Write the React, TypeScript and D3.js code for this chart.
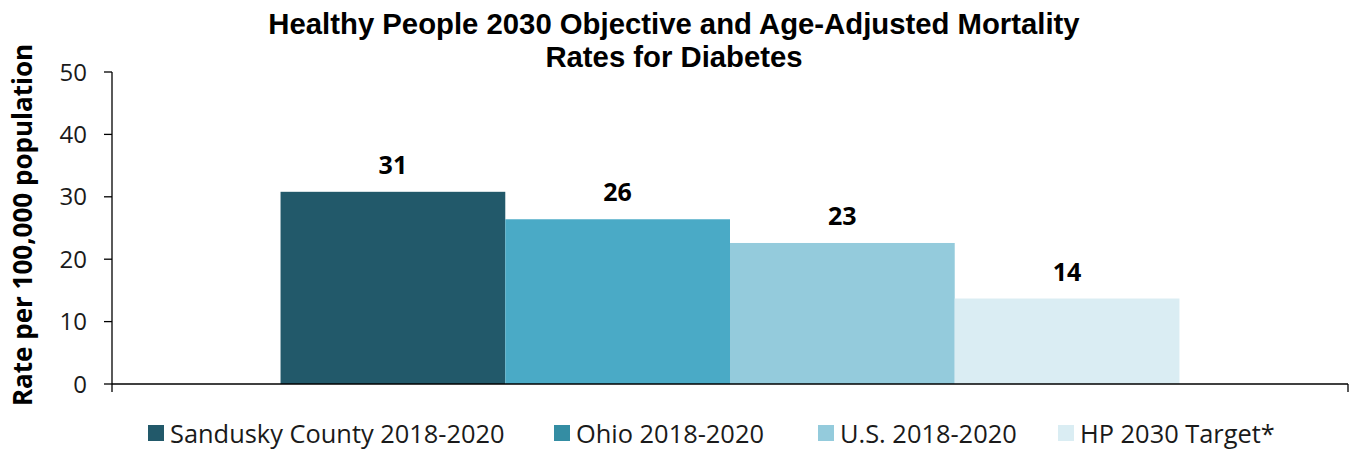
import React from "react";
import * as d3 from "d3";

const categories = ["Diabetes"];
const seriesNames = ["Sandusky County 2018-2020", "Ohio 2018-2020", "U.S. 2018-2020", "HP 2030 Target*"];
const seriesValues = [30.8, 26.4, 22.6, 13.7];
const seriesLabels = ["31", "26", "23", "14"];
const barColors = ["#22596a", "#4aaac6", "#94cbdc", "#daedf3"];
const legendColors = ["#22596a", "#348da3", "#94cbdc", "#daedf3"];
const yTicks = [0, 10, 20, 30, 40, 50];
const titleLines = ["Healthy People 2030 Objective and Age-Adjusted Mortality", "Rates for Diabetes"];
const yAxisTitle = "Rate per 100,000 population";
const legendX = [148, 554, 818, 1058];

const W = 1356, H = 453;
const margin = { left: 112, right: 8, top: 72, bottom: 69 };
const FONT = "'Open Sans', 'Noto Sans', sans-serif";
const TITLE_FONT = "'Liberation Sans', Arial, sans-serif";

export default function App() {
  const plotW = W - margin.left - margin.right;
  const plotH = H - margin.top - margin.bottom;
  const x0 = d3.scaleBand().domain(categories).range([0, plotW]).paddingInner(0).paddingOuter(0.1875);
  const x1 = d3.scaleBand().domain(seriesNames).range([0, x0.bandwidth()]).padding(0);
  const y = d3.scaleLinear().domain([0, 50]).range([plotH, 0]);

  return (
    <svg width={W} height={H} style={{ position: "absolute", left: 0, top: 0, background: "#fff" }}>
      <g fontFamily={FONT}>
        {titleLines.map((t, i) => (
          <text key={i} x={674} y={33.5 + i * 33.5} textAnchor="middle" fontWeight="bold" fontFamily={TITLE_FONT} fontSize={29.3} fill="#000">{t}</text>
        ))}
        <text transform={`translate(32, ${margin.top + plotH / 2 - 3}) rotate(-90)`} textAnchor="middle" fontWeight="bold" fontSize={26} fill="#000">{yAxisTitle}</text>
        <g transform={`translate(${margin.left},${margin.top})`}>
          {categories.map((c) =>
            seriesNames.map((s, i) => (
              <rect key={c + s} x={(x0(c) ?? 0) + (x1(s) ?? 0)} y={y(seriesValues[i])} width={x1.bandwidth()} height={plotH - y(seriesValues[i])} fill={barColors[i]} />
            ))
          )}
          {categories.map((c) =>
            seriesNames.map((s, i) => (
              <text key={"l" + c + s} x={(x0(c) ?? 0) + (x1(s) ?? 0) + x1.bandwidth() / 2} y={y(seriesValues[i]) - 18} textAnchor="middle" fontWeight="bold" fontSize={25} fill="#000">{seriesLabels[i]}</text>
            ))
          )}
          <line x1={0} x2={0} y1={0} y2={plotH} stroke="#000" strokeWidth={1.3} />
          <line x1={0} x2={plotW} y1={plotH} y2={plotH} stroke="#000" strokeWidth={1.3} />
          <line x1={0} x2={0} y1={plotH} y2={plotH + 8} stroke="#000" strokeWidth={1.3} />
          <line x1={plotW} x2={plotW} y1={plotH} y2={plotH + 8} stroke="#000" strokeWidth={1.3} />
          {yTicks.map((t) => (
            <g key={t} transform={`translate(0,${y(t)})`}>
              <line x1={-8} x2={0} stroke="#000" strokeWidth={1.3} />
              <text x={-25} dy="0.36em" textAnchor="end" fontSize={24} fill="#1a1a1a">{t}</text>
            </g>
          ))}
        </g>
        {seriesNames.map((s, i) => (
          <g key={"lg" + s}>
            <rect x={legendX[i]} y={425} width={16} height={16} fill={legendColors[i]} />
            <text x={legendX[i] + 22} y={443} fontSize={25.4} fill="#1a1a1a">{s}</text>
          </g>
        ))}
      </g>
    </svg>
  );
}
